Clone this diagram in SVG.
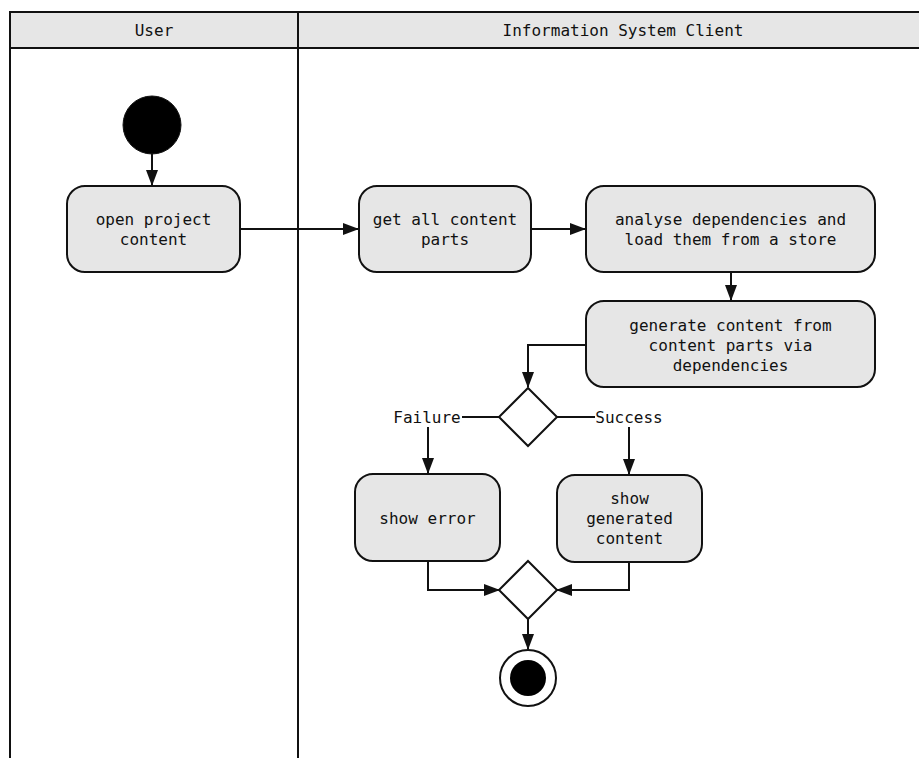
<svg xmlns="http://www.w3.org/2000/svg" width="919" height="758" viewBox="0 0 919 758">
<style>
.lane{fill:none;stroke:#111;stroke-width:2}
.hdr{fill:#e6e6e6;stroke:#111;stroke-width:2}
.act{fill:#e6e6e6;stroke:#111;stroke-width:2}
.dec{fill:#fff;stroke:#111;stroke-width:2}
.c{fill:none;stroke:#111;stroke-width:2}
text{font-family:"DejaVu Sans Mono","Liberation Mono",monospace;font-size:16px;fill:#111;text-anchor:middle;dominant-baseline:central}
</style>
<defs>
<marker id="ah" viewBox="0 0 16 12" refX="15" refY="6" markerWidth="16" markerHeight="12" markerUnits="userSpaceOnUse" orient="auto">
<path d="M0,0 L16,6 L0,12 Z" fill="#111"/>
</marker>
</defs>
<rect width="919" height="758" fill="#fff"/>
<g id="lanes">
<rect class="hdr" x="10" y="12" width="920" height="36"/>
<line class="lane" x1="10" y1="12" x2="10" y2="758"/>
<line class="lane" x1="298" y1="12" x2="298" y2="758"/>
<text x="154" y="30">User</text>
<text x="623" y="30">Information System Client</text>
</g>
<g id="connectors">
<path class="c" d="M152,154 V185" marker-end="url(#ah)"/>
<path class="c" d="M240,229 H358" marker-end="url(#ah)"/>
<path class="c" d="M531,229 H585" marker-end="url(#ah)"/>
<path class="c" d="M731,272 V300" marker-end="url(#ah)"/>
<path class="c" d="M586,345 H528 V387" marker-end="url(#ah)"/>
<path class="c" d="M500,417 H462"/>
<path class="c" d="M557,417 H595"/>
<path class="c" d="M428,427 V473" marker-end="url(#ah)"/>
<path class="c" d="M629,427 V474" marker-end="url(#ah)"/>
<path class="c" d="M428,561 V590 H499" marker-end="url(#ah)"/>
<path class="c" d="M629,562 V590 H557" marker-end="url(#ah)"/>
<path class="c" d="M528,619 V649" marker-end="url(#ah)"/>
<text x="427" y="417">Failure</text>
<text x="629" y="417">Success</text>
</g>
<g id="start"><circle cx="152" cy="125" r="29" fill="#000" stroke="#111" stroke-width="1"/></g>
<g id="open-project-content">
<rect class="act" x="67" y="186" width="173" height="86" rx="18"/>
<text x="153.5" y="219">open project</text>
<text x="153.5" y="239">content</text>
</g>
<g id="get-all-content-parts">
<rect class="act" x="359" y="186" width="172" height="86" rx="18"/>
<text x="445" y="219">get all content</text>
<text x="445" y="239">parts</text>
</g>
<g id="analyse-dependencies">
<rect class="act" x="586" y="186" width="289" height="86" rx="18"/>
<text x="730.5" y="219">analyse dependencies and</text>
<text x="730.5" y="239">load them from a store</text>
</g>
<g id="generate-content">
<rect class="act" x="586" y="301" width="289" height="86" rx="18"/>
<text x="730.5" y="325">generate content from</text>
<text x="730.5" y="345">content parts via</text>
<text x="730.5" y="365">dependencies</text>
</g>
<g id="decision"><path class="dec" d="M528,388 L557,417 L528,446 L499,417 Z"/></g>
<g id="show-error">
<rect class="act" x="355" y="474" width="145" height="87" rx="18"/>
<text x="427.5" y="518">show error</text>
</g>
<g id="show-generated-content">
<rect class="act" x="557" y="475" width="145" height="87" rx="18"/>
<text x="629.5" y="498">show</text>
<text x="629.5" y="518">generated</text>
<text x="629.5" y="538">content</text>
</g>
<g id="merge"><path class="dec" d="M528,561 L557,590 L528,619 L499,590 Z"/></g>
<g id="end">
<circle cx="528" cy="678" r="28" fill="#fff" stroke="#111" stroke-width="2"/>
<circle cx="528" cy="678" r="18" fill="#000"/>
</g>
</svg>
